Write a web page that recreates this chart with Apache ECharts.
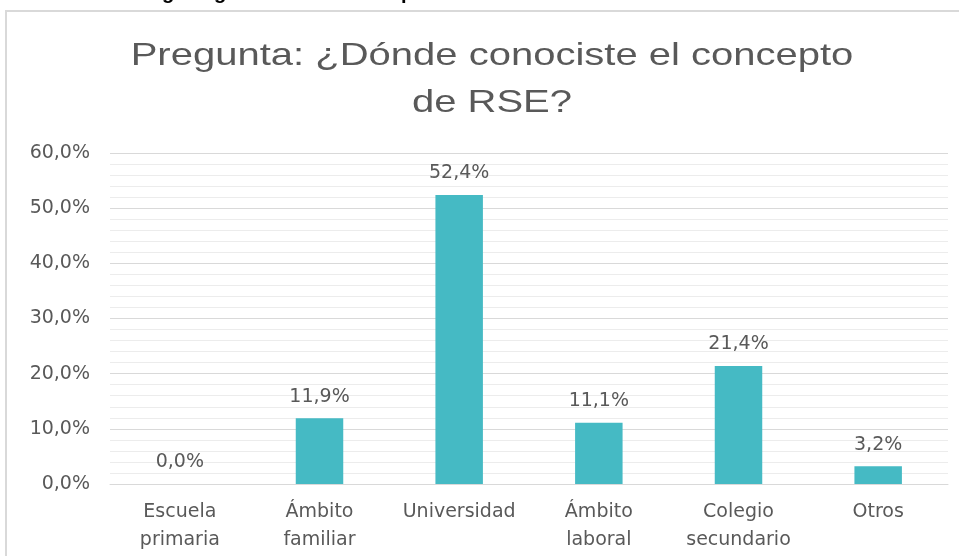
<!DOCTYPE html>
<html>
<head>
<meta charset="utf-8">
<script src="https://cdn.jsdelivr.net/npm/echarts@6/dist/echarts.min.js"></script>
<style>
  html, body { margin: 0; padding: 0; background: #fff; }
  #main { width: 959px; height: 556px; }
</style>
</head>
<body>
<div id="main"></div>
<script>
// categorias y porcentajes
var categorias = ['Escuela\nprimaria', 'Ámbito\nfamiliar', 'Universidad', 'Ámbito\nlaboral', 'Colegio\nsecundario', 'Otros'];
var porcentajes = [0.0, 11.9, 52.4, 11.1, 21.4, 3.2];
var titulo = 'Pregunta: ¿Dónde conociste el concepto\nde RSE?';

var fuente = 'DejaVu Sans, Liberation Sans, sans-serif';
var fmt = function (v) {
    return v.toFixed(1).replace('.', ',') + '%';
};

var myChart = echarts.init(document.getElementById('main'));
var option = {
    animation: false,
    textStyle: { fontFamily: fuente },
    graphic: [
        {
            type: 'rect',
            shape: { x: 6, y: 11, width: 1000, height: 600 },
            style: { fill: 'none', stroke: '#d9d9d9', lineWidth: 2 },
            silent: true
        },
        // titulo (algo ensanchado como en la imagen)
        {
            type: 'text',
            x: 492,
            y: 33,
            scaleX: 1.25,
            style: {
                text: titulo,
                font: '32px Liberation Sans',
                fill: '#595959',
                textAlign: 'center',
                textVerticalAlign: 'top',
                lineHeight: 47
            }
        },
        // restos del texto cortado arriba
        { type: 'text', x: 162, y: -17, style: { text: 'g', font: 'bold 20px Liberation Sans', fill: '#000' } },
        { type: 'text', x: 214, y: -17, style: { text: 'g', font: 'bold 20px Liberation Sans', fill: '#000' } },
        { type: 'text', x: 401, y: -17, style: { text: 'p', font: 'bold 20px Liberation Sans', fill: '#000' } }
    ],
    grid: {
        left: 110,
        right: 11,
        top: 153,
        bottom: 72
    },
    xAxis: {
        type: 'category',
        data: categorias,
        axisTick: { show: false },
        axisLine: { show: true, lineStyle: { color: '#d9d9d9', width: 1 } },
        axisLabel: {
            color: '#595959',
            fontSize: 19,
            lineHeight: 28,
            margin: 14,
            interval: 0
        }
    },
    yAxis: {
        type: 'value',
        min: 0,
        max: 60,
        interval: 10,
        axisLine: { show: false },
        axisTick: { show: false },
        axisLabel: {
            color: '#595959',
            fontSize: 19,
            margin: 20,
            formatter: function (v) { return fmt(v); }
        },
        splitLine: { lineStyle: { color: '#d9d9d9', width: 1 } },
        minorTick: { show: false, splitNumber: 5 },
        minorSplitLine: { show: true, lineStyle: { color: '#ececec', width: 1 } }
    },
    series: [{
        type: 'bar',
        data: porcentajes,
        barWidth: '34%',
        itemStyle: { color: '#45bac4' },
        label: {
            show: true,
            position: 'top',
            distance: 12,
            color: '#595959',
            fontSize: 19,
            formatter: function (p) { return fmt(p.value); }
        }
    }]
};
myChart.setOption(option);
window.addEventListener('resize', () => {
    myChart.resize();
});
</script>
</body>
</html>
